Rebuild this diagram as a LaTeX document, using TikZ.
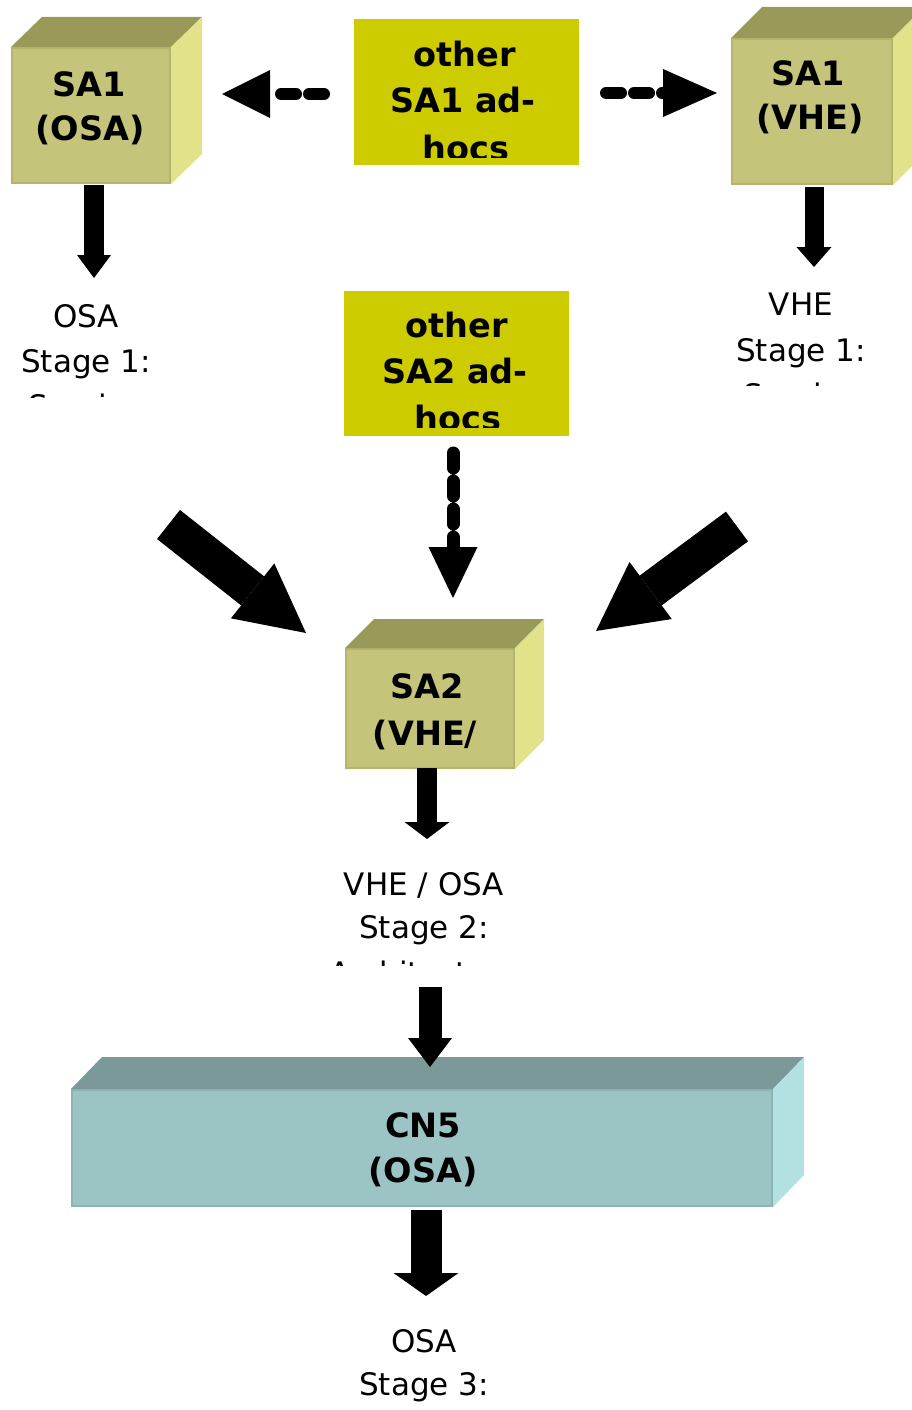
\documentclass[tikz,border=0pt]{standalone}
\usepackage{fontspec}
\setmainfont{DejaVu Sans}
\usetikzlibrary{arrows.meta}
\definecolor{olivefront}{HTML}{C4C47A}
\definecolor{olivetop}{HTML}{99995A}
\definecolor{oliveside}{HTML}{E2E28A}
\definecolor{oliveedge}{HTML}{B4B46C}
\definecolor{tealfront}{HTML}{9DC4C4}
\definecolor{tealtop}{HTML}{7A9998}
\definecolor{tealside}{HTML}{B3E0E0}
\definecolor{tealedge}{HTML}{8DB4B4}
\definecolor{adhoc}{HTML}{CCCC00}
\newcommand{\cubesides}[5]{%
  \fill[#4] (#1.north west) -- ++(#2,-#3) -- ([shift={(#2,-#3)}]#1.north east) -- (#1.north east) -- cycle;
  \fill[#5] (#1.north east) -- ++(#2,-#3) -- ([shift={(#2,-#3)}]#1.south east) -- (#1.south east) -- cycle;}
\begin{document}
\begin{tikzpicture}[x=1pt,y=-1pt,
  boldtxt/.style={font=\fontsize{33.5}{33.5}\selectfont\bfseries, inner sep=0pt, anchor=base},
  plaintxt/.style={font=\fontsize{31}{31}\selectfont, inner sep=0pt, anchor=base},
  olivebox/.style={fill=olivefront, draw=oliveedge, line width=2pt, inner sep=0pt, anchor=north west},
  tealbox/.style={fill=tealfront, draw=tealedge, line width=2pt, inner sep=0pt, anchor=north west},
  adhocbox/.style={fill=adhoc, inner sep=0pt, anchor=north west},
  fatarrow/.style={draw=black, line width=#1},
  dasharrow/.style={draw=black, line width=#1, line cap=round, dash pattern=on 15pt off 13pt}]
\useasboundingbox (0,0) rectangle (911,1410);

% ad-hoc boxes
\node[adhocbox, minimum width=225pt, minimum height=146pt] (adhoc1) at (354,19) {};
\node[adhocbox, minimum width=225pt, minimum height=145pt] (adhoc2) at (344,291) {};
\begin{scope}
  \clip (354,19) rectangle (579,157);
  \node[boldtxt] (adhoc1a) at (465,67) {other};
  \node[boldtxt] (adhoc1b) at (463,113) {SA1 ad-};
  \node[boldtxt] (adhoc1c) at (466,160) {hocs};
\end{scope}
\begin{scope}
  \clip (344,291) rectangle (569,427);
  \node[boldtxt] (adhoc2a) at (457,337) {other};
  \node[boldtxt] (adhoc2b) at (455,383) {SA2 ad-};
  \node[boldtxt] (adhoc2c) at (458,430) {hocs};
\end{scope}

% cubes
\node[olivebox, minimum width=158pt, minimum height=135pt] (sa1osa) at (11,47) {};
\cubesides{sa1osa}{31}{30}{olivetop}{oliveside}
\node[olivebox, minimum width=160pt, minimum height=145pt] (sa1vhe) at (731,38) {};
\cubesides{sa1vhe}{31}{31}{olivetop}{oliveside}
\node[olivebox, minimum width=168pt, minimum height=119pt] (sa2) at (345,648) {};
\cubesides{sa2}{29}{29}{olivetop}{oliveside}
\node[tealbox, minimum width=700pt, minimum height=116pt] (cn5) at (71,1089) {};
\cubesides{cn5}{31}{32}{tealtop}{tealside}

% cube labels
\node[boldtxt] (sa1osaa) at (89,97) {SA1};
\node[boldtxt] (sa1osab) at (90,140) {(OSA)};
\node[boldtxt] (sa1vhea) at (808,86) {SA1};
\node[boldtxt] (sa1vheb) at (810,130) {(VHE)};
\node[boldtxt] (sa2a) at (427,698) {SA2};
\node[boldtxt] (sa2b) at (425,745) {(VHE/};
\node[boldtxt] (cn5a) at (423,1137) {CN5};
\node[boldtxt] (cn5b) at (423,1182) {(OSA)};

% stage texts
\begin{scope}
  \clip (0,290) rectangle (200,397);
  \node[plaintxt] (osa1a) at (86,327) {OSA};
  \node[plaintxt] (osa1b) at (86,372) {Stage 1:};
  \node[plaintxt] (osa1c) at (86,417) {Service};
\end{scope}
\begin{scope}
  \clip (700,280) rectangle (911,385);
  \node[plaintxt] (vhe1a) at (801,315) {VHE};
  \node[plaintxt] (vhe1b) at (801,361) {Stage 1:};
  \node[plaintxt] (vhe1c) at (801,406) {Service};
\end{scope}
\begin{scope}
  \clip (300,850) rectangle (560,965);
  \node[plaintxt] (st2a) at (424,895) {VHE / OSA};
  \node[plaintxt] (st2b) at (424,938) {Stage 2:};
  \node[plaintxt] (st2c) at (424,984) {Architecture};
\end{scope}
\node[plaintxt] (st3a) at (424,1352) {OSA};
\node[plaintxt] (st3b) at (424,1395) {Stage 3:};

% arrow end points
\coordinate (a1s) at (94,185);   \coordinate (a1e) at (94,278);
\coordinate (a2s) at (814,187);  \coordinate (a2e) at (814,267);
\coordinate (a3s) at (427,768);  \coordinate (a3e) at (427,839);
\coordinate (a4s) at (430,987);  \coordinate (a4e) at (430,1067);
\coordinate (a5s) at (426,1210); \coordinate (a5e) at (426,1296);
\coordinate (d1s) at (324,94);   \coordinate (d1e) at (222,94);
\coordinate (d2s) at (606,93);   \coordinate (d2e) at (717,93);
\coordinate (d3s) at (453,453);  \coordinate (d3e) at (453,598);
\coordinate (bls) at (168.5,524.5); \coordinate (ble) at (306,633);
\coordinate (brs) at (737,526.5);   \coordinate (bre) at (596,631);

% block arrows
\draw[fatarrow=20pt, -{Triangle[width=34pt,length=23pt,line width=0pt]}] (a1s) -- (a1e);
\draw[fatarrow=19pt, -{Triangle[width=35pt,length=20pt,line width=0pt]}] (a2s) -- (a2e);
\draw[fatarrow=20pt, -{Triangle[width=45pt,length=17pt,line width=0pt]}] (a3s) -- (a3e);
\draw[fatarrow=23pt, -{Triangle[width=44pt,length=29pt,line width=0pt]}] (a4s) -- (a4e);
\draw[fatarrow=31pt, -{Triangle[width=65pt,length=23pt,line width=0pt]}] (a5s) -- (a5e);
\draw[fatarrow=37pt, -{Triangle[width=70pt,length=68pt,line width=0pt]}] (bls) -- (ble);
\draw[fatarrow=37pt, -{Triangle[width=71pt,length=68pt,line width=0pt]}] (brs) -- (bre);

% dashed arrows
\draw[dasharrow=12pt, -{Triangle[width=48pt,length=48pt,line width=0pt]}] (d1s) -- (d1e);
\draw[dasharrow=12pt, -{Triangle[width=48pt,length=54pt,line width=0pt]}] (d2s) -- (d2e);
\draw[dasharrow=13pt, -{Triangle[width=49pt,length=51pt,line width=0pt]}] (d3s) -- (d3e);
\end{tikzpicture}
\end{document}
